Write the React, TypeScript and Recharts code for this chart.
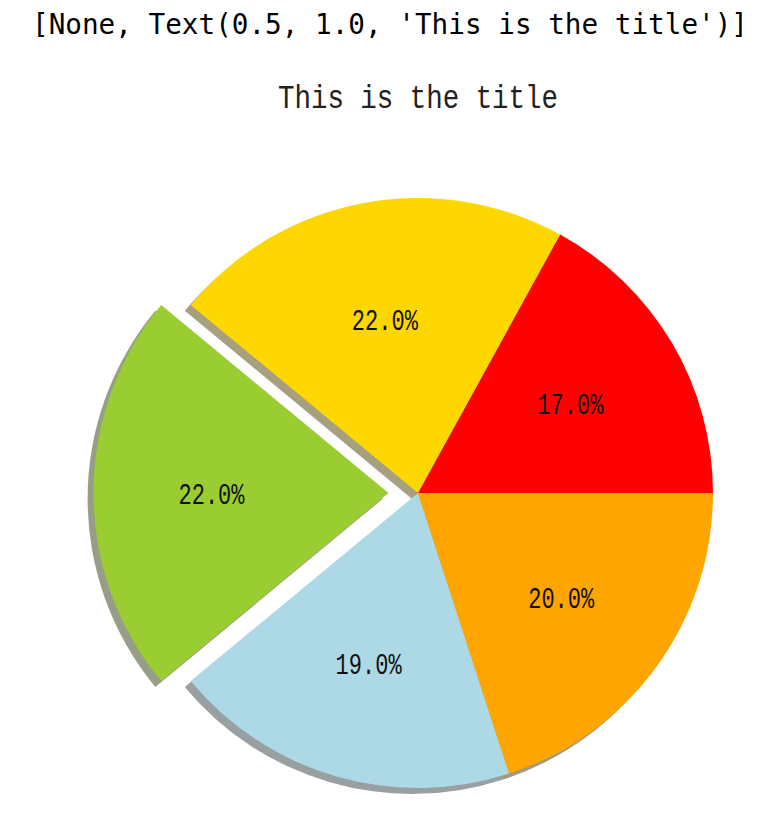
import React from 'react';
import { PieChart, Pie, Cell } from 'recharts';

// slice order follows matplotlib: counter-clockwise from 3 o'clock
const sliceNames = ['a', 'b', 'c', 'd', 'e'];
const shares = [17, 22, 22, 19, 20];
const sliceColors = ['#ff0000', '#ffd700', '#9acd32', '#add8e6', '#ffa500'];
const explode = [0, 0, 0.1, 0, 0];

const outputLine = "[None, Text(0.5, 1.0, 'This is the title')]";
const title = 'This is the title';

const W = 782;
const H = 814;
const CX = 418;
const CY = 493;
const R = 295;
const SHADOW = 0.02; // matplotlib shadow offset, in radius units

const data = sliceNames.map((name, i) => ({ name, value: shares[i] }));
const total = shares.reduce((s, v) => s + v, 0);

// matplotlib Shadow: 0.3 * face rgb, alpha 0.5
function shadowOf(hex: string) {
  const n = parseInt(hex.slice(1), 16);
  const r = Math.round(((n >> 16) & 255) * 0.3);
  const g = Math.round(((n >> 8) & 255) * 0.3);
  const b = Math.round((n & 255) * 0.3);
  return `rgb(${r},${g},${b})`;
}

// one group for the un-exploded slices, one per exploded slice
function groups() {
  const out: { dx: number; dy: number; show: boolean[] }[] = [];
  out.push({ dx: 0, dy: 0, show: explode.map((e) => e === 0) });
  let acc = 0;
  shares.forEach((v, i) => {
    const mid = ((acc + v / 2) / total) * 2 * Math.PI;
    acc += v;
    if (explode[i] > 0) {
      out.push({
        dx: Math.cos(mid) * explode[i] * R,
        dy: -Math.sin(mid) * explode[i] * R,
        show: explode.map((_, j) => j === i),
      });
    }
  });
  return out;
}

const RADIAN = Math.PI / 180;

function makeLabel(show: boolean[]) {
  return (props: any) => {
    const { cx, cy, midAngle, outerRadius, percent, index } = props;
    if (!show[index]) return null;
    const rr = outerRadius * 0.6;
    const x = cx + rr * Math.cos(-midAngle * RADIAN);
    const y = cy + rr * Math.sin(-midAngle * RADIAN);
    return (
      <text
        x={x}
        y={y + 3}
        textAnchor="middle"
        dominantBaseline="central"
        fill="#111"
        fontFamily="'Liberation Mono', 'DejaVu Sans Mono', monospace"
        fontSize={30}
        textLength={66}
        lengthAdjust="spacingAndGlyphs"
      >
        {`${(percent * 100).toFixed(1)}%`}
      </text>
    );
  };
}

export default function App() {
  const gs = groups();
  const off = SHADOW * R;
  return (
    <div style={{ position: 'absolute', left: 0, top: 0, width: W, height: H, background: '#fff' }}>
      <svg width={W} height={130} style={{ position: 'absolute', left: 0, top: 0 }}>
        <text
          x={390}
          y={34}
          textAnchor="middle"
          fontFamily="'DejaVu Sans Mono', monospace"
          fontSize={28}
          fill="#000"
          textLength={716}
          lengthAdjust="spacingAndGlyphs"
        >
          {outputLine}
        </text>
        <text
          x={418}
          y={108}
          textAnchor="middle"
          fontFamily="'Liberation Mono', monospace"
          fontSize={33}
          fill="#222"
          textLength={280}
          lengthAdjust="spacingAndGlyphs"
        >
          {title}
        </text>
      </svg>
      <div style={{ position: 'absolute', left: 0, top: 0 }}>
        <PieChart width={W} height={H} margin={{ top: 0, right: 0, bottom: 0, left: 0 }}>
          {gs.map((g, gi) => (
            <Pie
              key={`sh-${gi}`}
              data={data}
              dataKey="value"
              nameKey="name"
              cx={CX + g.dx - off}
              cy={CY + g.dy + off}
              outerRadius={R}
              startAngle={0}
              endAngle={360}
              stroke="none"
              isAnimationActive={false}
              labelLine={false}
            >
              {data.map((_, i) => (
                <Cell
                  key={`shc-${i}`}
                  fill={g.show[i] ? shadowOf(sliceColors[i]) : 'transparent'}
                  fillOpacity={g.show[i] ? 0.5 : 0}
                />
              ))}
            </Pie>
          ))}
          {gs.map((g, gi) => (
            <Pie
              key={`pie-${gi}`}
              data={data}
              dataKey="value"
              nameKey="name"
              cx={CX + g.dx}
              cy={CY + g.dy}
              outerRadius={R}
              startAngle={0}
              endAngle={360}
              stroke="none"
              isAnimationActive={false}
              labelLine={false}
              label={makeLabel(g.show)}
            >
              {data.map((_, i) => (
                <Cell
                  key={`c-${i}`}
                  fill={g.show[i] ? sliceColors[i] : 'transparent'}
                  fillOpacity={g.show[i] ? 1 : 0}
                />
              ))}
            </Pie>
          ))}
        </PieChart>
      </div>
    </div>
  );
}
